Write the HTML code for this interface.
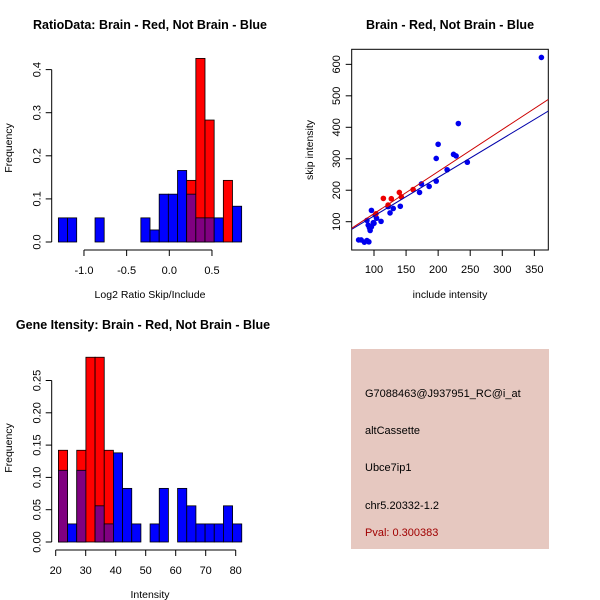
<!DOCTYPE html>
<html><head><meta charset="utf-8"><style>
body{margin:0;background:#fff;}
svg{display:block;font-family:"Liberation Sans",Arial,sans-serif;}
</style></head><body>
<svg id="c" width="600" height="600" xmlns="http://www.w3.org/2000/svg">
<rect x="0" y="0" width="600" height="600" fill="#fff"/>
<g id="p1"></g>
<g id="p2"></g>
<g id="p3"></g>
<g id="p4">
<rect x="351" y="349" width="198" height="200" fill="#e6c8c0"/>
<text x="365" y="397" font-size="11" fill="#000">G7088463@J937951_RC@i_at</text>
<text x="365" y="434" font-size="11" fill="#000">altCassette</text>
<text x="365" y="471" font-size="11" fill="#000">Ubce7ip1</text>
<text x="365" y="509" font-size="11" fill="#000">chr5.20332-1.2</text>
<text x="365" y="536" font-size="11" fill="#a00000">Pval: 0.300383</text>
</g>
</svg>
<script>
// ---- Ratio histogram data ----
const ratioStart = -1.30;
const ratioBinWidth = 0.1074;
const ratioRed  = [0,0,0,0,0,0,0,0,0,0,0,0,0,0,0.143,0.426,0.283,0,0.143,0];
const ratioBlue = [0.056,0.056,0,0,0.056,0,0,0,0,0.056,0.028,0.111,0.111,0.166,0.111,0.056,0.056,0.056,0,0.083];
const ratioXTicks = [-1.0,-0.5,0.0,0.5];
const ratioXLabels = ["-1.0","-0.5","0.0","0.5"];
const ratioYTicks = [0,0.1,0.2,0.3,0.4];
const ratioYLabels = ["0.0","0.1","0.2","0.3","0.4"];
// ---- Gene intensity histogram data ----
const geneStart = 20.9;
const geneBinWidth = 3.056;
const geneRed  = [0.142,0,0.142,0.286,0.286,0.142,0,0,0,0,0,0,0,0,0,0,0,0,0,0];
const geneBlue = [0.111,0.028,0.111,0,0.056,0.028,0.138,0.083,0.028,0,0.028,0.083,0,0.083,0.056,0.028,0.028,0.028,0.056,0.028];
const geneXTicks = [20,30,40,50,60,70,80];
const geneXLabels = ["20","30","40","50","60","70","80"];
const geneYTicks = [0,0.05,0.10,0.15,0.20,0.25];
const geneYLabels = ["0.00","0.05","0.10","0.15","0.20","0.25"];
// ---- Scatter data ----
const blueInclude = [361,231.5,200,197,224,228,245.5,214,197,174,186,171,141,130,125,122,111,104,102,96,89,91,94,99,96,93,76,80,85,89,92,100];
const blueSkip    = [622,412,346,301,314,309,289,265,229,220,212,193,149,142,128,148,101,111,121,136,104,89,72,97,84,80,42,42,35,40,36,95];
const redInclude = [114.6,127,139.5,142.6,161,122,103];
const redSkip    = [174,173,193,179,202,153,125];
const redFit = [-8, 1.336];   // intercept, slope
const blueFit = [-4.3, 1.226];
const scatterXTicks = [100,150,200,250,300,350];
const scatterYTicks = [100,200,300,400,500,600];

const NS="http://www.w3.org/2000/svg";
function el(parent,tag,attrs,text){const e=document.createElementNS(NS,tag);for(const k in attrs)e.setAttribute(k,attrs[k]);if(text!==undefined)e.textContent=text;parent.appendChild(e);return e;}

function hist(g,o){
  const sx=v=>o.x0px+(v-o.x0v)*o.xs, sy=v=>o.y0px-v*o.ys;
  for(let i=0;i<o.red.length;i++){
    const l=sx(o.start+i*o.bw), r=sx(o.start+(i+1)*o.bw), w=r-l;
    const rv=o.red[i], bv=o.blue[i];
    if(rv>0||bv>0){
      const top=Math.max(rv,bv), col=rv>=bv?'#ff0000':'#0000ff';
      const b=el(g,'rect',{x:l,y:sy(top),width:w,height:sy(0)-sy(top),fill:col,stroke:'#000','stroke-width':0.8});
      
      
      if(rv>0&&bv>0){const m=Math.min(rv,bv);
        const p=el(g,'rect',{x:l,y:sy(m),width:w,height:sy(0)-sy(m),fill:'#800080',stroke:'#000','stroke-width':0.8});
        
        }
    }
  }
  // y axis
  const ya=el(g,'line',{x1:o.yAxisX,x2:o.yAxisX,y1:sy(o.yt[0]),y2:sy(o.yt[o.yt.length-1]),stroke:'#000'});
  
  o.yt.forEach((v,i)=>{el(g,'line',{x1:o.yAxisX-6,x2:o.yAxisX,y1:sy(v),y2:sy(v),stroke:'#000'});
    const t=el(g,'text',{x:0,y:0,'font-size':11,'text-anchor':'middle',transform:`translate(${o.yAxisX-11},${sy(v)}) rotate(-90)`},o.yl[i]);
    });
  const xa=el(g,'line',{x1:sx(o.xt[0]),x2:sx(o.xt[o.xt.length-1]),y1:o.xAxisY,y2:o.xAxisY,stroke:'#000'});
  
  o.xt.forEach((v,i)=>{el(g,'line',{x1:sx(v),x2:sx(v),y1:o.xAxisY,y2:o.xAxisY+6,stroke:'#000'});
    const t=el(g,'text',{x:sx(v),y:o.xAxisY+24,'font-size':11,'text-anchor':'middle'},o.xl[i]);
    });
  const ti=el(g,'text',{x:o.titleX,y:o.titleY,'font-size':12.5,'font-weight':'bold','text-anchor':'middle'},o.title);
  
  const xl=el(g,'text',{x:o.xlabX,y:o.xlabY,'font-size':10.5,'text-anchor':'middle'},o.xlab);
  
  const yl=el(g,'text',{x:0,y:0,'font-size':10.5,'text-anchor':'middle',transform:`translate(12,${o.ylabY}) rotate(-90)`},'Frequency');
  
}

hist(document.getElementById('p1'),{red:ratioRed,blue:ratioBlue,start:ratioStart,bw:ratioBinWidth,
  x0px:169.3,x0v:0,xs:85.33,y0px:242,ys:431,xt:ratioXTicks,xl:ratioXLabels,yt:ratioYTicks,yl:ratioYLabels,
  yAxisX:51.7,xAxisY:250,title:'RatioData: Brain - Red, Not Brain - Blue',titleX:150,titleY:29,
  xlab:'Log2 Ratio Skip/Include',xlabX:150,xlabY:298,ylabY:148});
hist(document.getElementById('p3'),{red:geneRed,blue:geneBlue,start:geneStart,bw:geneBinWidth,
  x0px:55.7,x0v:20,xs:3.0,y0px:542,ys:646,xt:geneXTicks,xl:geneXLabels,yt:geneYTicks,yl:geneYLabels,
  yAxisX:51.7,xAxisY:550,title:'Gene Itensity: Brain - Red, Not Brain - Blue',titleX:143,titleY:329,
  xlab:'Intensity',xlabX:150,xlabY:598,ylabY:448});

// scatter
(function(){
  const g=document.getElementById('p2');
  const sx=v=>374+(v-100)*32.07/50, sy=v=>221.7-(v-100)*0.3147;
  const box=el(g,'rect',{x:351.7,y:49.3,width:196.6,height:200.7,fill:'none',stroke:'#000'});
  
  scatterXTicks.forEach(v=>{el(g,'line',{x1:sx(v),x2:sx(v),y1:250,y2:256,stroke:'#000'});
    const t=el(g,'text',{x:sx(v),y:273,'font-size':11,'text-anchor':'middle'},String(v));
    });
  scatterYTicks.forEach(v=>{el(g,'line',{x1:345.7,x2:351.7,y1:sy(v),y2:sy(v),stroke:'#000'});
    const t=el(g,'text',{x:0,y:0,'font-size':11,'text-anchor':'middle',transform:`translate(340,${sy(v)}) rotate(-90)`},String(v));
    });
  const clip=el(g,'clipPath',{id:'sc'});el(clip,'rect',{x:351.7,y:49.3,width:196.6,height:200.7});
  blueInclude.forEach((x,i)=>{const c=el(g,'circle',{cx:sx(x),cy:sy(blueSkip[i]),r:2.8,fill:'#0000ee'});
    });
  redInclude.forEach((x,i)=>{const c=el(g,'circle',{cx:sx(x),cy:sy(redSkip[i]),r:2.8,fill:'#ee0000'});
    });
  const xa=65.2,xb=371.8;
  const bl=el(g,'line',{x1:sx(xa),y1:sy(blueFit[0]+blueFit[1]*xa),x2:sx(xb),y2:sy(blueFit[0]+blueFit[1]*xb),stroke:'#0000aa','stroke-width':1,'clip-path':'url(#sc)'});
  
  const rl=el(g,'line',{x1:sx(xa),y1:sy(redFit[0]+redFit[1]*xa),x2:sx(xb),y2:sy(redFit[0]+redFit[1]*xb),stroke:'#cc0000','stroke-width':1,'clip-path':'url(#sc)'});
  
  const ti=el(g,'text',{x:450,y:29,'font-size':12.5,'font-weight':'bold','text-anchor':'middle'},'Brain - Red, Not Brain - Blue');
  
  const xl=el(g,'text',{x:450,y:298,'font-size':10.5,'text-anchor':'middle'},'include intensity');
  
  const yl=el(g,'text',{x:0,y:0,'font-size':10.5,'text-anchor':'middle',transform:'translate(313,150) rotate(-90)'},'skip intensity');
  
})();
</script>
</body></html>
